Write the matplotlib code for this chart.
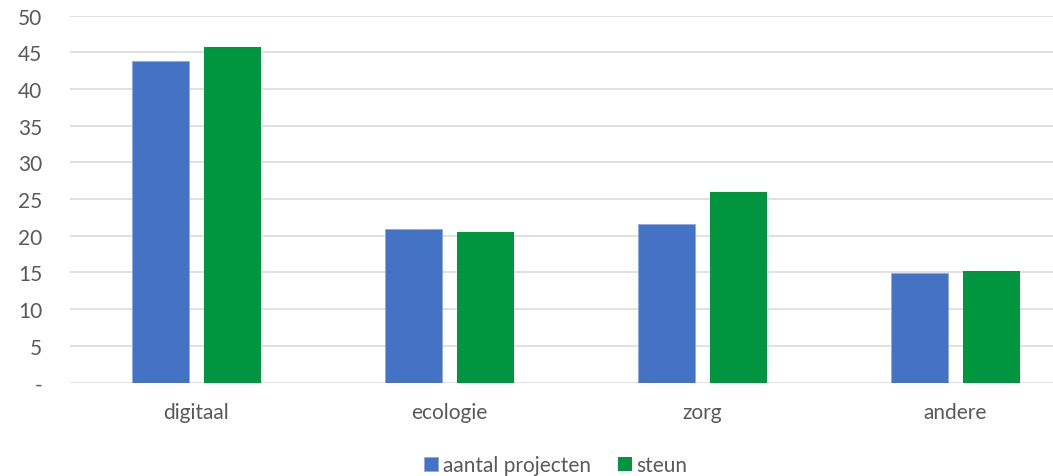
import numpy as np
import matplotlib

matplotlib.use("Agg")
import matplotlib.pyplot as plt

categories = ["digitaal", "ecologie", "zorg", "andere"]
aantal_projecten = [43.8, 20.9, 21.6, 14.9]
steun = [45.7, 20.5, 26.0, 15.2]
y_ticks = [0, 5, 10, 15, 20, 25, 30, 35, 40, 45, 50]
y_tick_labels = ["-", "5", "10", "15", "20", "25", "30", "35", "40", "45", "50"]

BLUE = "#4472C4"
GREEN = "#00963F"
TEXT = "#595959"
GRID = "#D9D9D9"

plt.rcParams["font.family"] = ["Lato", "DejaVu Sans"]

fig = plt.figure(figsize=(10.53, 4.77), dpi=100)
# right edge runs past the figure: the reference is cropped on the right
ax = fig.add_axes([70 / 1053, 1 - 383.5 / 477, (1082 - 70) / 1053, (383.5 - 16.7) / 477])

x = np.arange(len(categories))
width = 0.223
offset = 0.143
ax.bar(x - offset, aantal_projecten, width=width, color=BLUE,
       edgecolor="#8EA9DB", linewidth=0.6, label="aantal projecten", zorder=3)
ax.bar(x + offset, steun, width=width, color=GREEN, linewidth=0,
       label="steun", zorder=3)

ax.set_xlim(-0.5, len(categories) - 0.5)
ax.set_ylim(0, 50)
ax.set_yticks(y_ticks, y_tick_labels)
ax.set_xticks(x, categories)
ax.tick_params(axis="y", length=0, pad=20, labelsize=15, labelcolor=TEXT)
ax.tick_params(axis="x", length=0, pad=14, labelsize=15, labelcolor=TEXT)
ax.grid(axis="y", color=GRID, linewidth=1.1, zorder=0)
ax.set_axisbelow(True)
for spine in ax.spines.values():
    spine.set_visible(False)

fig.legend(
    loc="center",
    bbox_to_anchor=(0.528, 0.023),
    ncol=2,
    frameon=False,
    fontsize=15,
    labelcolor=TEXT,
    handlelength=0.65,
    handleheight=0.65,
    handletextpad=0.25,
    columnspacing=1.3,
)

fig.savefig("out.png", dpi=100)
